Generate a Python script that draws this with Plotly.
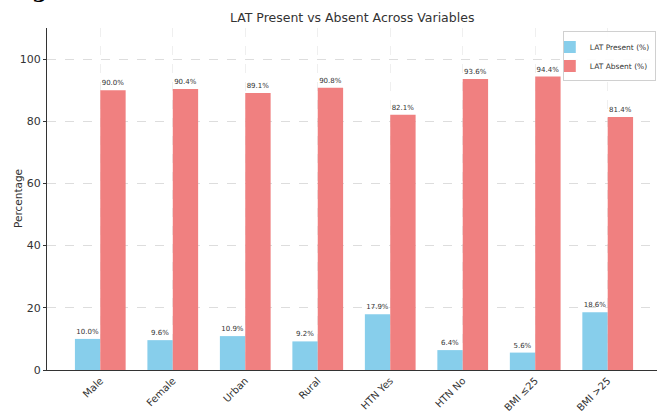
import plotly.graph_objects as go

categories = ["Male", "Female", "Urban", "Rural", "HTN Yes", "HTN No", "BMI ≤25", "BMI >25"]
lat_present = [10.0, 9.6, 10.9, 9.2, 17.9, 6.4, 5.6, 18.6]
lat_absent = [90.0, 90.4, 89.1, 90.8, 82.1, 93.6, 94.4, 81.4]

font_main = "DejaVu Sans"
idx = list(range(len(categories)))

fig = go.Figure()
fig.add_trace(go.Bar(
    x=idx, y=lat_present, name="LAT Present (%)",
    marker=dict(color="#87CEEB", line=dict(width=0)),
    text=[f"{v:.1f}%" for v in lat_present], textposition="outside",
    textfont=dict(family=font_main, size=7, color="#333333"), cliponaxis=False,
))
fig.add_trace(go.Bar(
    x=idx, y=lat_absent, name="LAT Absent (%)",
    marker=dict(color="#F08080", line=dict(width=0)),
    text=[f"{v:.1f}%" for v in lat_absent], textposition="outside",
    textfont=dict(family=font_main, size=7, color="#333333"), cliponaxis=False,
))

fig.update_layout(
    width=657, height=412,
    margin=dict(l=47, r=0, t=28, b=42),
    paper_bgcolor="white", plot_bgcolor="white",
    barmode="group", bargap=0.3, bargroupgap=0,
    uniformtext=dict(minsize=6, mode="show"),
    title=dict(text="LAT Present vs Absent Across Variables", x=0.536, xanchor="center",
               y=0.958, yanchor="middle",
               font=dict(family=font_main, size=12.5, color="#333333")),
    font=dict(family=font_main, color="#333333"),
    legend=dict(x=0.998, y=0.99, xanchor="right", yanchor="top",
                bordercolor="#d0d0d0", borderwidth=1, bgcolor="rgba(255,255,255,0.9)",
                font=dict(size=7.5, color="#333333"), itemwidth=30, tracegroupgap=0,
                indentation=-14),
    showlegend=True,
)

fig.update_xaxes(
    range=[-0.735, 7.68], tickmode="array", tickvals=idx, ticktext=categories,
    tickangle=-45, tickfont=dict(size=10, color="#333333"),
    showline=True, linecolor="#333333", linewidth=1,
    showgrid=True, gridcolor="#efefef", griddash="dash", gridwidth=1,
    ticks="", zeroline=False,
)
fig.update_yaxes(
    range=[0, 110], tickvals=[0, 20, 40, 60, 80, 100],
    tickfont=dict(size=11, color="#333333"),
    showline=True, linecolor="#333333", linewidth=1,
    showgrid=True, gridcolor="#dddddd", griddash="dash", gridwidth=1,
    ticks="outside", ticklen=3, tickcolor="#333333", zeroline=False,
)

# y-axis title
fig.add_annotation(text="Percentage", xref="paper", yref="paper", x=0, y=0.5,
                   xanchor="center", yanchor="middle", xshift=-29, textangle=-90,
                   showarrow=False, font=dict(family=font_main, size=10.5, color="#333333"))

# heading text above the chart, mostly outside the visible page
fig.add_annotation(text="<b>g</b>", xref="paper", yref="paper", x=-0.012, y=1.0,
                   xanchor="center", yanchor="bottom", yshift=24, showarrow=False,
                   font=dict(family="DejaVu Serif", size=22, color="black"))

fig.write_html("out.html")
